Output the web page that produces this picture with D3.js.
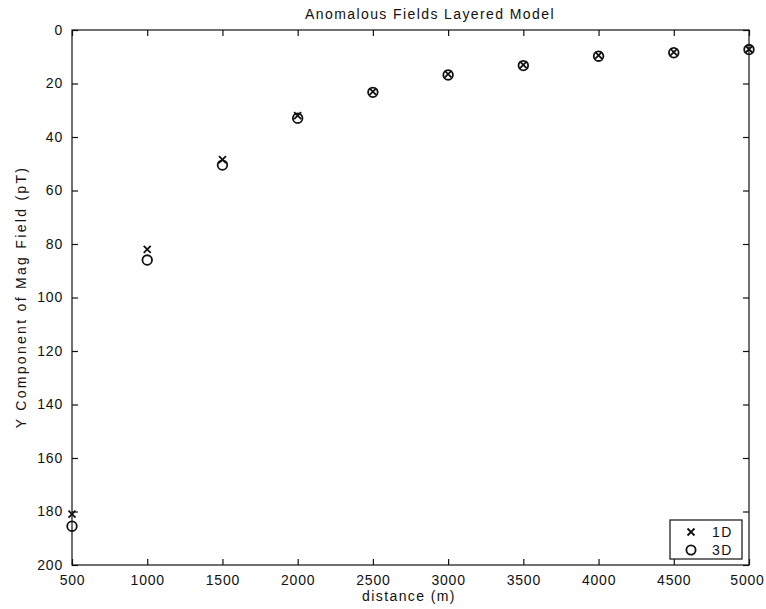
<!DOCTYPE html>
<html><head><meta charset="utf-8">
<script src="https://cdn.jsdelivr.net/npm/d3@7"></script>
<style>body{margin:0;background:#fff}svg{display:block}text{font-family:"Liberation Sans",Arial,sans-serif;fill:#111}</style>
</head><body><svg id="c" width="766" height="609"></svg>
<script>
const distance = [500,1000,1500,2000,2500,3000,3500,4000,4500,5000];
const field1D = [181,82,48.5,32,23,16.5,13,9.5,8.3,7.2];
const field3D = [185.5,86,50.5,33,23.3,16.8,13.3,9.8,8.5,7.3];
const xTicks = [500,1000,1500,2000,2500,3000,3500,4000,4500,5000];
const yTicks = [0,20,40,60,80,100,120,140,160,180,200];

const svg = d3.select("#c");
const L=72,R=749,T=30,B=565;
const x = d3.scaleLinear().domain([500,5000]).range([L,R]);
const y = d3.scaleLinear().domain([0,200]).range([T,B]);
const fs = 14, ls = 1.4;

svg.append("rect").attr("x",L).attr("y",T).attr("width",R-L).attr("height",B-T)
  .attr("fill","none").attr("stroke","#111").attr("stroke-width",1.2);

const g = svg.append("g");
const bx = g.append("g").attr("transform",`translate(0,${B})`)
  .call(d3.axisBottom(x).tickValues(xTicks).tickSize(-6).tickPadding(10).tickFormat(d3.format("d")));
const tx = g.append("g").attr("transform",`translate(0,${T})`)
  .call(d3.axisTop(x).tickValues(xTicks).tickSize(-6).tickFormat(""));
const ly = g.append("g").attr("transform",`translate(${L},0)`)
  .call(d3.axisLeft(y).tickValues(yTicks).tickSize(-6).tickPadding(9).tickFormat(d3.format("d")));
const ry = g.append("g").attr("transform",`translate(${R},0)`)
  .call(d3.axisRight(y).tickValues(yTicks).tickSize(-6).tickFormat(""));
[bx,tx,ly,ry].forEach(a=>{a.select(".domain").remove();a.selectAll("line").attr("stroke","#111").attr("stroke-width",1.2);
  a.selectAll("text").attr("font-size",fs).attr("letter-spacing",0.8).attr("font-family","Liberation Sans, Arial, sans-serif").attr("fill","#111");});
bx.selectAll("text").filter(d=>d===5000).attr("dx",-2);

svg.append("text").attr("x",430).attr("y",19).attr("text-anchor","middle").attr("font-size",fs).attr("letter-spacing",ls).text("Anomalous Fields Layered Model");
svg.append("text").attr("x",409).attr("y",601).attr("text-anchor","middle").attr("font-size",fs).attr("letter-spacing",ls).text("distance (m)");
svg.append("text").attr("transform",`translate(26,297) rotate(-90)`).attr("text-anchor","middle").attr("font-size",fs).attr("letter-spacing",2.3).text("Y Component of Mag Field (pT)");

const cross = (sel, cx, cy, s) => {
  sel.append("path").attr("d",`M${cx-s},${cy-s}L${cx+s},${cy+s}M${cx-s},${cy+s}L${cx+s},${cy-s}`)
    .attr("stroke","#111").attr("stroke-width",1.8).attr("fill","none");
};
const pts = svg.append("g");
distance.forEach((d,i)=>{ cross(pts, x(d), y(field1D[i]), 3.5); });
pts.selectAll("circle").data(distance).join("circle")
  .attr("cx",d=>x(d)).attr("cy",(d,i)=>y(field3D[i])).attr("r",4.8)
  .attr("fill","none").attr("stroke","#111").attr("stroke-width",1.8);

const lg = svg.append("g");
lg.append("rect").attr("x",670).attr("y",520).attr("width",72).attr("height",39)
  .attr("fill","#fff").attr("stroke","#111").attr("stroke-width",1.2);
cross(lg, 691, 532, 3.5);
lg.append("circle").attr("cx",691).attr("cy",550).attr("r",4.6).attr("fill","none").attr("stroke","#111").attr("stroke-width",1.8);
lg.append("text").attr("x",712).attr("y",537).attr("font-size",fs).attr("letter-spacing",ls).text("1D");
lg.append("text").attr("x",712).attr("y",555).attr("font-size",fs).attr("letter-spacing",ls).text("3D");
</script></body></html>
